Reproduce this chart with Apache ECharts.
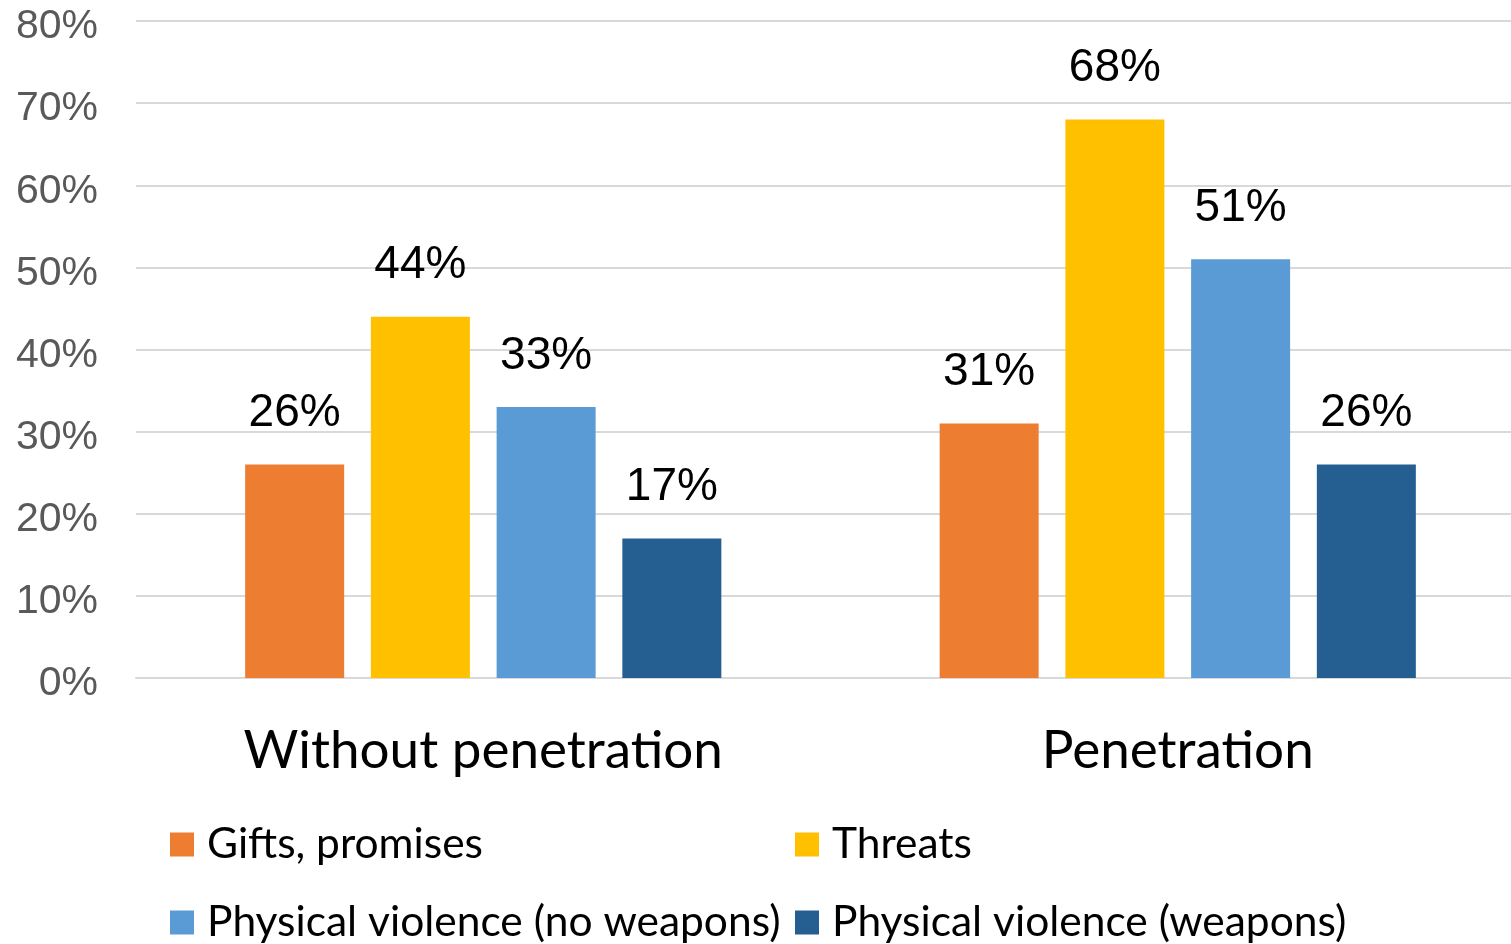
<!DOCTYPE html>
<html>
<head>
<meta charset="utf-8">
<script src="https://cdn.jsdelivr.net/npm/echarts@6/dist/echarts.min.js"></script>
<style>
  html, body { margin: 0; padding: 0; background: #fff; }
  #chart { width: 1511px; height: 944px; }
</style>
</head>
<body>
<div id="chart"></div>
<script>
// Groups along the x axis
const categories = ['Without penetration', 'Penetration'];

// Share of cases (%) for each type of coercion
const giftsPromises = [26, 31];
const threats = [44, 68];
const violenceNoWeapons = [33, 51];
const violenceWeapons = [17, 26];

const seriesNames = [
  'Gifts, promises',
  'Threats',
  'Physical violence (no weapons)',
  'Physical violence (weapons)'
];
const seriesValues = [giftsPromises, threats, violenceNoWeapons, violenceWeapons];
const seriesColors = ['#ED7D31', '#FFC000', '#5B9BD5', '#255E91'];

const chart = echarts.init(document.getElementById('chart'), null, { renderer: 'canvas' });

const textFont = 'Lato, "Open Sans", sans-serif';
const numberFont = '"Liberation Sans", Arial, sans-serif';
const legendPos = [
  { left: 165, top: 818 },
  { left: 790, top: 818 },
  { left: 165, top: 896 },
  { left: 790, top: 896 }
];

const option = {
  backgroundColor: '#ffffff',
  animation: false,
  color: seriesColors,
  // plot area runs slightly past the right edge of the canvas
  grid: {
    left: 136, top: 21, width: 1389, bottom: 266,
    containLabel: false,
    outerBoundsMode: 'none'
  },
  legend: seriesNames.map((name, i) => ({
    data: [name],
    left: legendPos[i].left,
    top: legendPos[i].top,
    orient: 'horizontal',
    icon: 'rect',
    itemWidth: 24,
    itemHeight: 24,
    selectedMode: false,
    textStyle: {
      fontFamily: textFont,
      fontSize: 42.5,
      color: '#000000',
      padding: [0, 0, 0, 8]
    }
  })),
  xAxis: {
    type: 'category',
    data: categories,
    axisLine: { show: true, lineStyle: { color: '#d9d9d9', width: 2 } },
    axisTick: { show: false },
    axisLabel: {
      margin: 46,
      fontFamily: textFont,
      fontSize: 53,
      color: '#000000'
    }
  },
  yAxis: {
    type: 'value',
    min: 0,
    max: 80,
    interval: 10,
    axisLine: { show: false },
    axisTick: { show: false },
    splitLine: { lineStyle: { color: '#d9d9d9', width: 2 } },
    axisLabel: {
      formatter: '{value}%',
      margin: 38,
      // tick labels sit a little below their gridline
      verticalAlign: 'top',
      lineHeight: 12,
      fontFamily: numberFont,
      fontSize: 41,
      color: '#595959'
    }
  },
  series: seriesNames.map((name, i) => ({
    name: name,
    type: 'bar',
    data: seriesValues[i],
    barWidth: 99,
    barGap: '27%',
    itemStyle: { color: seriesColors[i] },
    label: {
      show: true,
      position: 'top',
      distance: 28,
      formatter: '{c}%',
      fontFamily: numberFont,
      fontSize: 46,
      color: '#000000'
    }
  }))
};

chart.setOption(option);
</script>
</body>
</html>
